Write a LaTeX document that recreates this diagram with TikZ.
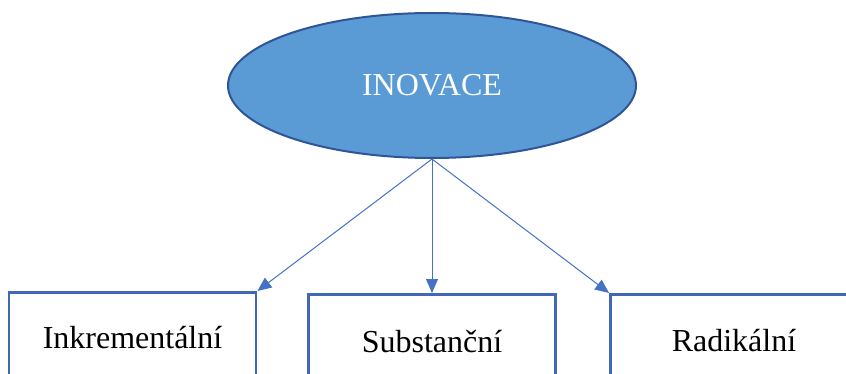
\documentclass[tikz,border=0pt]{standalone}
\usepackage{fontspec}
\setmainfont{Liberation Serif}
\usetikzlibrary{shapes.geometric,arrows.meta}
\definecolor{efill}{HTML}{5B9BD5}
\definecolor{edraw}{HTML}{2F5597}
\definecolor{bdraw}{HTML}{4168B4}
\definecolor{adraw}{HTML}{4472C4}
\tikzset{
  oval/.style={ellipse, fill=efill, draw=edraw, line width=2pt, text=white,
    minimum width=408pt, minimum height=145pt, inner sep=0pt,
    font=\fontsize{32}{36}\selectfont, text height=21pt, text depth=0pt},
  boxnode/.style={rectangle, draw=bdraw, line width=2.8pt, fill=white, anchor=north,
    minimum width=247pt, inner sep=0pt, text=black,
    font=\fontsize{32}{36}\selectfont, text height=21pt, text depth=0pt},
  conn/.style={draw=adraw, line width=1pt, -{Triangle[length=14pt,width=12pt]}}
}
\begin{document}
\begin{tikzpicture}[x=1pt,y=-1pt]
\useasboundingbox (0,0) rectangle (846,374);
\clip (0,0) rectangle (846,374);
\node[oval] (inov) at (432,85.5) {INOVACE};
\node[boxnode, minimum height=92pt] (inc) at (132.5,291) {Inkrementální};
\node[boxnode, minimum height=96pt] (sub) at (432,293) {Substanční};
\node[boxnode, minimum height=94pt] (rad) at (734,293) {Radikální};
\draw[conn] (inov.south) -- (inc.north east);
\draw[conn] (inov.south) -- (sub.north);
\draw[conn] (inov.south) -- (rad.north west);
\end{tikzpicture}
\end{document}
